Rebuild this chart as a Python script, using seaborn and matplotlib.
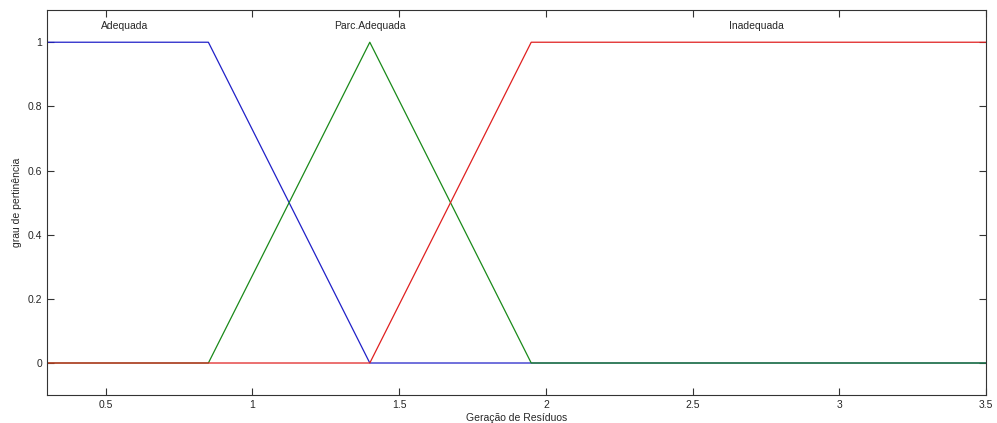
import matplotlib
matplotlib.use("Agg")
import matplotlib.pyplot as plt
import seaborn as sns
import pandas as pd

sns.set_theme(style="white")
plt.rcParams['font.family'] = ['Liberation Sans', 'DejaVu Sans']

# Membership function breakpoints
adequada_x = [0.3, 0.85, 1.4, 3.5]
adequada_y = [1, 1, 0, 0]
parc_x = [0.3, 0.85, 1.4, 1.95, 3.5]
parc_y = [0, 0, 1, 0, 0]
inad_x = [0.3, 1.4, 1.95, 3.5]
inad_y = [0, 0, 1, 1]

labels = ["Adequada", "Parc.Adequada", "Inadequada"]
label_x = [0.566, 1.4, 2.716]
label_y = 1.05

xticks = [0.5, 1, 1.5, 2, 2.5, 3, 3.5]
yticks = [0, 0.2, 0.4, 0.6, 0.8, 1]

fig = plt.figure(figsize=(9.97, 4.23), dpi=100)
ax = fig.add_axes([0.0471, 0.066, 0.942, 0.910])

series = [(adequada_x, adequada_y, "#2020c8"),
          (parc_x, parc_y, "#1a8a1a"),
          (inad_x, inad_y, "#e02020")]
for xs, ys, c in series:
    df = pd.DataFrame({"x": xs, "y": ys})
    sns.lineplot(data=df, x="x", y="y", ax=ax, color=c, linewidth=0.9,
                 estimator=None, sort=False)

for lab, lx in zip(labels, label_x):
    ax.text(lx, label_y, lab, ha="center", va="center", fontsize=7.5)

ax.set_xlim(0.3, 3.5)
ax.set_ylim(-0.1, 1.1)
ax.set_xticks(xticks)
ax.set_xticklabels([f"{t:g}" for t in xticks])
ax.set_yticks(yticks)
ax.set_yticklabels([f"{t:g}" for t in yticks])
ax.tick_params(direction="in", length=5, width=0.8, labelsize=7.5,
               top=True, right=True, bottom=True, left=True, color="#333333")
ax.set_xlabel("Geração de Resíduos", fontsize=7.5, labelpad=2)
ax.set_ylabel("grau de pertinência", fontsize=7.5, labelpad=4)
for s in ax.spines.values():
    s.set_color("#333333")
    s.set_linewidth(0.8)

fig.savefig("out.png", dpi=100, facecolor="white")
